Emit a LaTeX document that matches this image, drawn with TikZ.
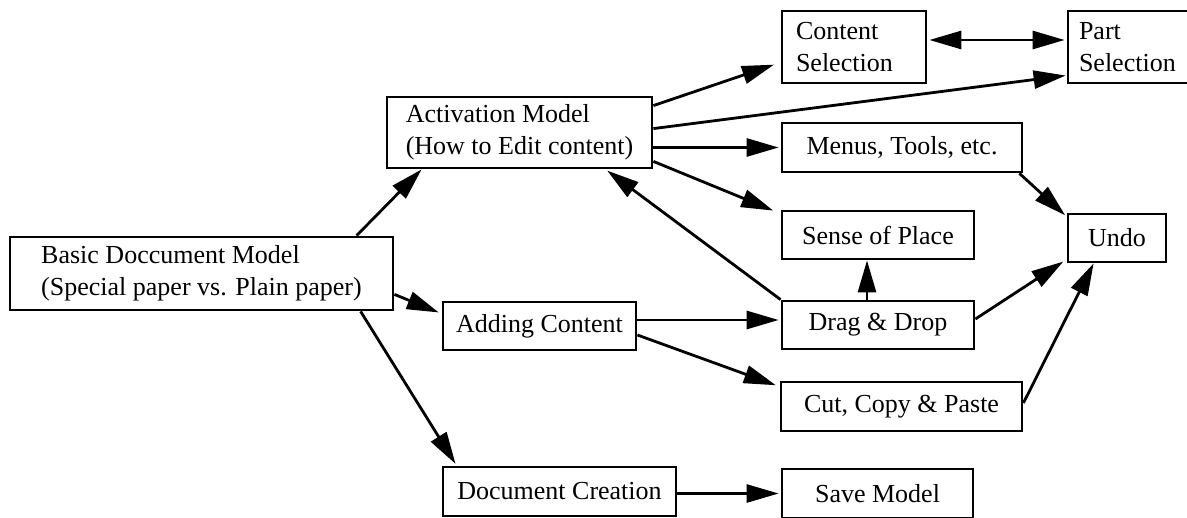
\documentclass[tikz,border=0pt]{standalone}
\usepackage{fontspec}
\setmainfont{Liberation Serif}
\usetikzlibrary{arrows.meta}

\begin{document}
\begin{tikzpicture}[
  x=0.5pt, y=-0.5pt,
  font=\fontsize{13pt}{16pt}\selectfont,
  box/.style={draw, line width=1.4pt, inner sep=0pt, align=center,
              minimum height=24pt},
  twoline/.style={draw, line width=1.4pt, inner ysep=0pt, align=left,
                  minimum height=36pt},
  arr/.style={-{Triangle[length=16pt,width=9pt]}, line width=1.4pt},
  dblarr/.style={{Triangle[length=16pt,width=9pt]}-{Triangle[length=16pt,width=9pt]},
                 line width=1.4pt},
]
\useasboundingbox (0,0) rectangle (1187,518);

% left and middle column
\node[twoline, inner xsep=0pt, minimum width=191.5pt, minimum height=36.5pt]
  (basic) at (201.5,273.5) {Basic Doccument Model\\(Special paper vs. Plain paper)};
\node[twoline, inner xsep=0pt, minimum width=132.5pt, minimum height=35.5pt]
  (act) at (519.5,132.5) {Activation Model\\(How to Edit content)};
\node[box, minimum width=96.5pt] (adding) at (539.5,326) {Adding Content};
\node[box, minimum width=116.5pt, minimum height=24.5pt] (doc) at (559.5,491.5) {Document Creation};

% right columns
\node[twoline, inner xsep=7pt, text width=58pt] (csel) at (854,47) {Content\\Selection};
\node[twoline, inner xsep=5.5pt, text width=52pt] (psel) at (1131,47) {Part\\Selection};
\node[box, minimum width=120pt, minimum height=24.5pt] (menus) at (902,147.5) {Menus, Tools, etc.};
\node[box, minimum width=96pt] (sense) at (878,235) {Sense of Place};
\node[box, minimum width=49pt] (undo) at (1117,238) {Undo};
\node[box, minimum width=96pt] (drag) at (878,325) {Drag \& Drop};
\node[box, minimum width=120.5pt, minimum height=24.5pt] (cut) at (901.5,406.5) {Cut, Copy \& Paste};
\node[box, minimum width=95.5pt, minimum height=24.5pt] (save) at (877.5,493.5) {Save Model};

% connectors
\draw[arr] ([xshift=174pt]basic.north west) -- ([xshift=18pt]act.south west);
\draw[arr, shorten >=1.5pt] ([yshift=8.5pt]basic.south east) -- ([yshift=-6.5pt]adding.north west);
\draw[arr, shorten >=1pt] ([xshift=176pt]basic.south west) -- ([xshift=7.5pt]doc.north west);

\draw[arr, shorten >=3.5pt] ([yshift=-5pt]act.north east) -- ([yshift=11pt]csel.south west);
\draw[arr, shorten >=0.5pt] ([yshift=-16.5pt]act.north east) -- ([yshift=4.5pt]psel.south west);
\draw[arr, shorten >=1pt] (act.east |- menus.west) -- (menus.west);
\draw[arr, shorten >=4pt] ([yshift=4pt]act.south east) -- ([yshift=-2pt]sense.north west);
\draw[arr, shorten >=1pt] (drag.north west) -- ([xshift=110pt]act.south west);

\draw[dblarr, shorten <=1pt, shorten >=1pt] ([yshift=3.5pt]csel.east) -- ([yshift=3.5pt]psel.west);

\draw[arr] ([xshift=-5.5pt]drag.north) -- ([xshift=-5.5pt]sense.south);
\draw[arr, shorten >=1pt] ([yshift=3pt]adding.east) -- ([yshift=2.5pt]drag.west);
\draw[arr, shorten >=2pt] ([yshift=-4.5pt]adding.east) -- ([yshift=-3pt]cut.north west);

\draw[arr, shorten >=1pt] ([xshift=-2pt]menus.south east) -- ([yshift=-2pt]undo.north west);
\draw[arr, shorten >=2pt] ([yshift=3pt]drag.east) -- ([yshift=2pt]undo.south west);
\draw[arr] ([yshift=1.75pt]cut.east) -- ([xshift=13.5pt]undo.south west);

\draw[arr, shorten >=1pt] (doc.east |- save.west) -- (save.west);

\end{tikzpicture}
\end{document}
